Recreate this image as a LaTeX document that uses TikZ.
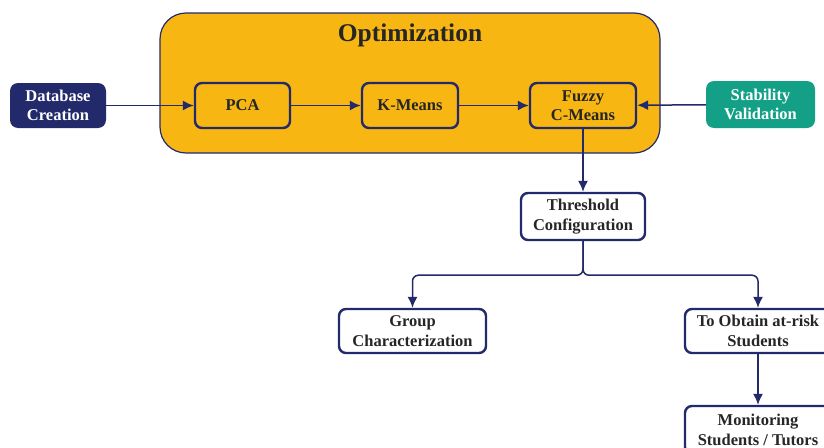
\documentclass[tikz,border=0pt]{standalone}
\usepackage{fontspec}
\setmainfont{Liberation Serif}
\usetikzlibrary{arrows.meta}
\definecolor{navy}{HTML}{232A6C}
\definecolor{gold}{HTML}{F7B612}
\definecolor{teal}{HTML}{13A086}
\tikzset{
  box/.style={draw=navy, line width=2.4pt, rounded corners=7pt, align=center, font=\bfseries\fontsize{16.5}{19.5}\selectfont, inner sep=0pt, text=black!85},
  goldbox/.style={box, fill=gold},
  whitebox/.style={box, fill=white},
  solid/.style={rounded corners=8pt, align=center, font=\bfseries\fontsize{16.5}{19.5}\selectfont, inner sep=0pt, text=white},
  conn/.style={draw=navy, line width=1.5pt, -{Latex[length=11pt,width=10pt]}},
}
\begin{document}
\begin{tikzpicture}[x=1pt,y=-1pt]
\clip (0,0) rectangle (824,447);
\fill[white] (0,0) rectangle (824,447);
% container
\node[draw=navy, line width=1.2pt, fill=gold, rounded corners=26pt, minimum width=500pt, minimum height=140pt, inner sep=0pt] (opt) at (410,83) {};
\node[font=\bfseries\fontsize{25.5}{28}\selectfont, text=black!85] (optt) at (410,35) {Optimization};
% nodes
\node[solid, fill=navy, minimum width=96pt, minimum height=45pt] (db) at (58,105.5) {Database\\Creation};
\node[goldbox, minimum width=95pt, minimum height=45pt] (pca) at (242.5,105.5) {PCA};
\node[goldbox, minimum width=96pt, minimum height=45pt] (km) at (410,105.5) {K-Means};
\node[goldbox, minimum width=106pt, minimum height=45pt] (fcm) at (583,105.5) {Fuzzy\\C-Means};
\node[solid, fill=teal, minimum width=109pt, minimum height=47pt] (sv) at (760.5,104.5) {Stability\\Validation};
\node[whitebox, minimum width=124pt, minimum height=47pt] (thr) at (583,216.5) {Threshold\\Configuration};
\node[whitebox, minimum width=147pt, minimum height=44pt] (grp) at (412.5,331) {Group\\Characterization};
\node[whitebox, minimum width=146pt, minimum height=44pt] (obt) at (758,331) {To Obtain at-risk\\Students};
\node[whitebox, minimum width=146pt, minimum height=48pt] (mon) at (758,430) {Monitoring\\Students / Tutors};
% connectors
\draw[conn] (db) -- (pca);
\draw[conn] (pca) -- (km);
\draw[conn] (km) -- (fcm);
\draw[conn] (sv) -- (fcm);
\draw[conn] (fcm) -- (thr);
\draw[conn, rounded corners=6pt] (thr.south) -- ++(0,34) -| (grp.north);
\draw[conn, rounded corners=6pt] (thr.south) -- ++(0,34) -| (obt.north);
\draw[conn] (obt) -- (mon);
\end{tikzpicture}
\end{document}
